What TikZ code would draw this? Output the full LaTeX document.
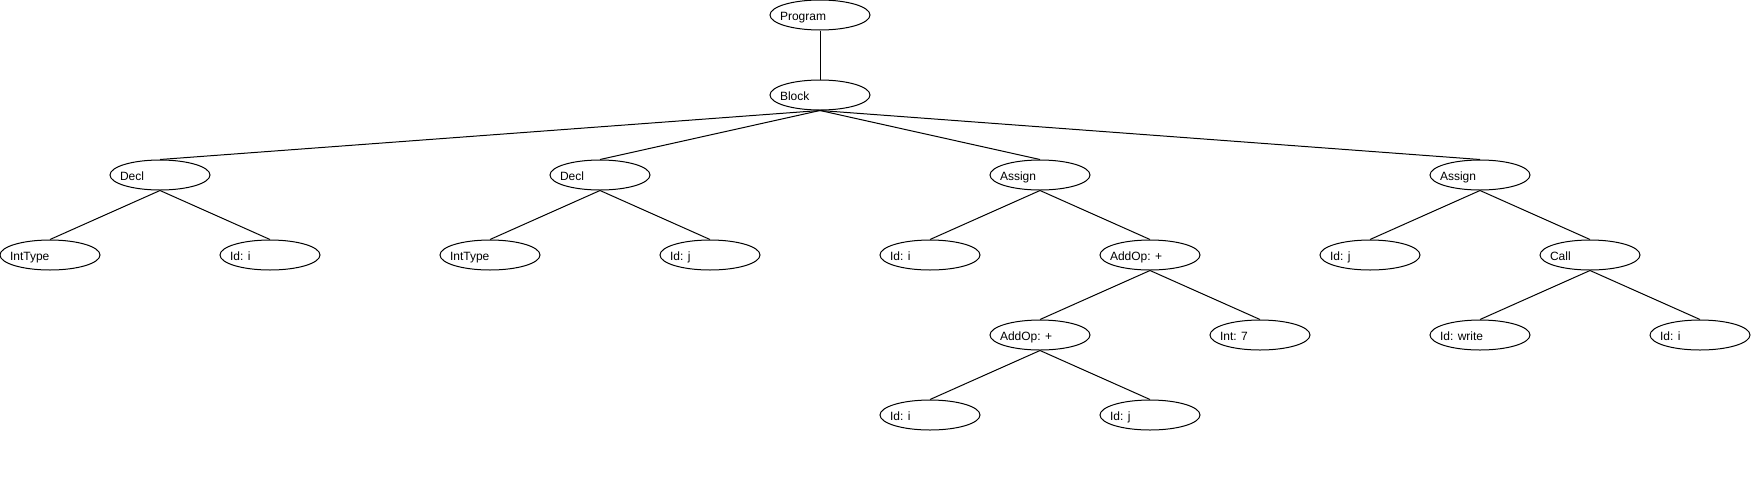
\documentclass[tikz,border=0pt]{standalone}
\usepackage{fontspec}
\setmainfont{Liberation Sans}
\usetikzlibrary{shapes.geometric}
\tikzset{
  tn/.style={draw=black, line width=1pt, ellipse, minimum width=100pt, minimum height=30pt,
    inner sep=0pt, font=\fontsize{12pt}{14pt}\selectfont, text height=12pt, text depth=2pt},
  edge/.style={draw=black, line width=1pt}
}
\newcommand{\tl}[1]{\makebox[0pt][l]{\hspace*{-40pt}#1}}
\begin{document}
\begin{tikzpicture}[x=1pt,y=-1pt]
\useasboundingbox (0,0) rectangle (1760,480);
\node[tn] (prog) at (820,15) {\tl{Program}};
\node[tn] (block) at (820,95) {\tl{Block}};
\node[tn] (decl1) at (160,175) {\tl{Decl}};
\node[tn] (decl2) at (600,175) {\tl{Decl}};
\node[tn] (asg1) at (1040,175) {\tl{Assign}};
\node[tn] (asg2) at (1480,175) {\tl{Assign}};
\node[tn] (it1) at (50,255) {\tl{IntType}};
\node[tn] (idi1) at (270,255) {\tl{Id: i}};
\node[tn] (it2) at (490,255) {\tl{IntType}};
\node[tn] (idj1) at (710,255) {\tl{Id: j}};
\node[tn] (idi2) at (930,255) {\tl{Id: i}};
\node[tn] (add1) at (1150,255) {\tl{AddOp: +}};
\node[tn] (idj2) at (1370,255) {\tl{Id: j}};
\node[tn] (call) at (1590,255) {\tl{Call}};
\node[tn] (add2) at (1040,335) {\tl{AddOp: +}};
\node[tn] (int7) at (1260,335) {\tl{Int: 7}};
\node[tn] (idw) at (1480,335) {\tl{Id: write}};
\node[tn] (idi3) at (1700,335) {\tl{Id: i}};
\node[tn] (idi4) at (930,415) {\tl{Id: i}};
\node[tn] (idj3) at (1150,415) {\tl{Id: j}};
\foreach \p/\c in {prog/block, block/decl1, block/decl2, block/asg1, block/asg2,
  decl1/it1, decl1/idi1, decl2/it2, decl2/idj1, asg1/idi2, asg1/add1,
  asg2/idj2, asg2/call, add1/add2, add1/int7, call/idw, call/idi3,
  add2/idi4, add2/idj3}
  \draw[edge] (\p.south) -- (\c.north);
\end{tikzpicture}
\end{document}
